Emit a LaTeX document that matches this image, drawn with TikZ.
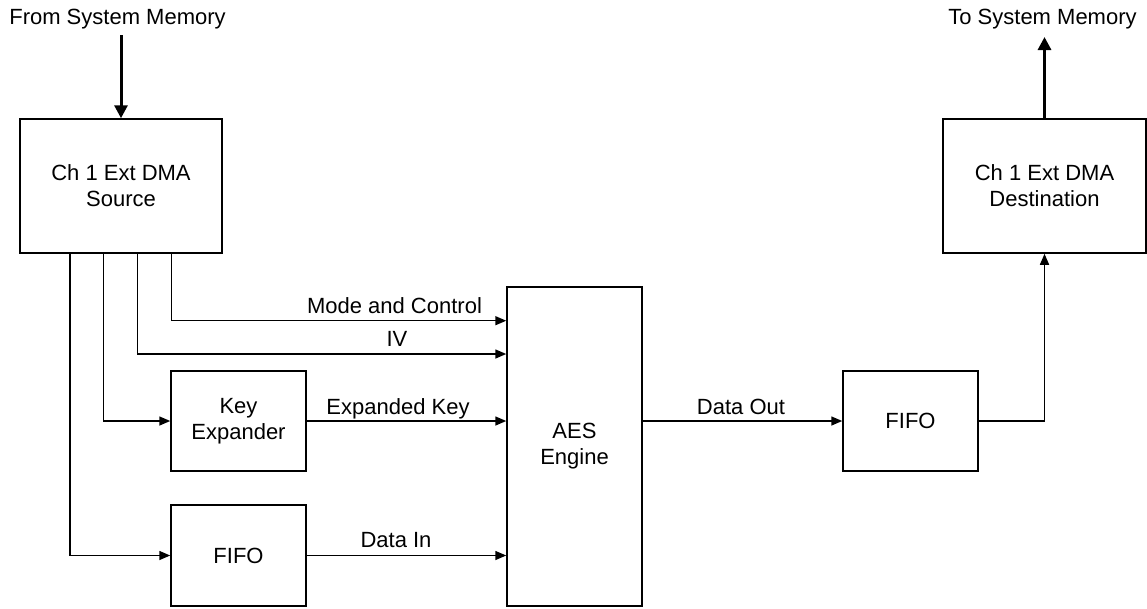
\documentclass[tikz,border=0pt]{standalone}
\usepackage{fontspec}
\setmainfont{Liberation Sans}
\usetikzlibrary{arrows.meta}
\begin{document}
\begin{tikzpicture}[x=1pt,y=-1pt,
  font=\fontsize{22}{26}\selectfont,
  blk/.style={draw,line width=1.5pt,rectangle,inner sep=0pt,align=center},
  conn/.style={line width=1.5pt,-{Triangle[length=11pt,width=9pt]}},
  thickconn/.style={line width=3pt,-{Triangle[length=13pt,width=13pt]}},
  lbl/.style={anchor=base,inner sep=0pt}]
\useasboundingbox (0,0) rectangle (1147,608);
\node[blk,minimum width=202pt,minimum height=134pt] (src) at (121,186) {Ch 1 Ext DMA\\Source};
\node[blk,minimum width=203pt,minimum height=134pt] (dest) at (1044.5,186) {Ch 1 Ext DMA\\Destination};
\node[blk,minimum width=135pt,minimum height=100pt] (kexp) at (238.5,421) {Key\\Expander};
\node[blk,minimum width=135pt,minimum height=101pt] (fifoL) at (238.5,555.5) {FIFO};
\node[blk,minimum width=135pt,minimum height=319pt] (aes) at (574.5,446.5) {AES\\Engine};
\node[blk,minimum width=135pt,minimum height=100pt] (fifoR) at (910.5,421) {FIFO};

\node[lbl] (fromtxt) at (117.5,24) {From System Memory};
\node[lbl] (totxt) at (1042.5,24) {To System Memory};
\coordinate (fromstart) at (121,35);
\coordinate (toend) at (1044.5,37);
\draw[thickconn] (fromstart) -- (src.north);
\draw[thickconn] (dest.north) -- (toend);

\draw[conn] ([xshift=50.7pt]src.south west) |- (fifoL.west);
\draw[conn] ([xshift=84pt]src.south west) |- (kexp.west);
\draw[conn] ([xshift=118pt]src.south west) |- ([yshift=92.5pt]aes.west);
\draw[conn] ([xshift=152pt]src.south west) |- ([yshift=125.8pt]aes.west);
\draw[conn] (kexp.east) -- (kexp.east -| aes.west);
\draw[conn] (fifoL.east) -- (fifoL.east -| aes.west);
\draw[conn] (fifoR.west -| aes.east) -- (fifoR.west);
\draw[conn] (fifoR.east) -| (dest.south);

\node[lbl] (lmode) at (394.5,313) {Mode and Control};
\node[lbl] (liv) at (397,346.7) {IV};
\node[lbl] (lkey) at (398,414) {Expanded Key};
\node[lbl] (ldin) at (396,547.3) {Data In};
\node[lbl] (ldout) at (741,414) {Data Out};
\end{tikzpicture}
\end{document}
